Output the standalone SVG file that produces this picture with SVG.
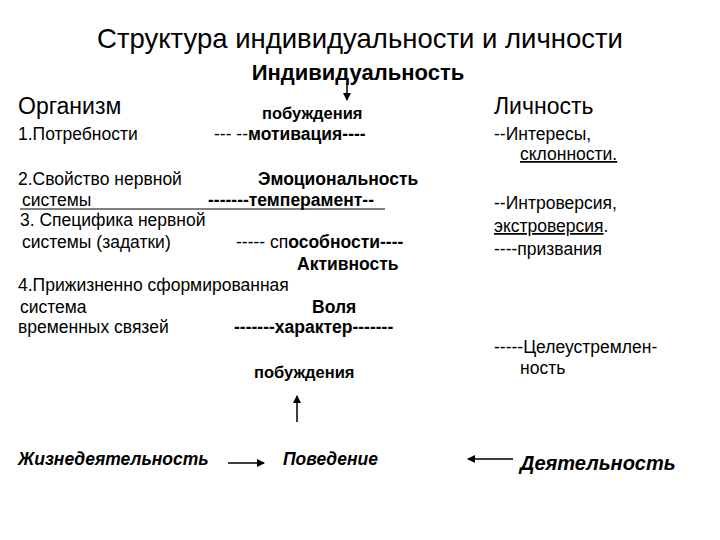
<svg xmlns="http://www.w3.org/2000/svg" width="720" height="540" viewBox="0 0 720 540">
<defs>
<marker id="ah" markerWidth="8" markerHeight="8" refX="7" refY="4" orient="auto" markerUnits="userSpaceOnUse"><path d="M0,0 L8,4 L0,8 Z" fill="#000"/></marker>
<style>
text{font-family:"Liberation Sans",Arial,sans-serif;fill:#000}
.n{font-size:17.5px}
.b{font-size:17.5px;font-weight:bold}
.h{font-size:23px}
.i{font-size:17.5px;font-weight:bold;font-style:italic}
line{stroke:#000;stroke-width:1.5}
</style>
</defs>
<rect width="720" height="540" fill="#fff"/>
<g id="title">
<text x="360" y="48" text-anchor="middle" style="font-size:27.5px">Структура индивидуальности и личности</text>
<text x="358" y="80" class="b" text-anchor="middle" style="font-size:22px">Индивидуальность</text>
</g>
<g id="organism">
<text x="18" y="114" class="h">Организм</text>
<text x="18" y="140" class="n">1.Потребности</text>
<text x="18" y="185" class="n">2.Свойство нервной</text>
<text x="22" y="206" class="n">системы</text>
<text x="20" y="226" class="n">3. Специфика нервной</text>
<text x="22" y="248" class="n">системы (задатки)</text>
<text x="18" y="291" class="n">4.Прижизненно сформированная</text>
<text x="20" y="313" class="n">система</text>
<text x="18" y="333" class="n">временных  связей</text>
</g>
<g id="middle">
<text x="262" y="119" class="b" style="font-size:16.5px">побуждения</text>
<text x="214" y="140" class="n">--- --<tspan font-weight="bold">мотивация----</tspan></text>
<text x="258" y="185" class="b">Эмоциональность</text>
<text x="208" y="206" class="b">-------темперамент--</text>
<line x1="20" y1="209" x2="385" y2="209" style="stroke-width:1.2"/>
<text x="236" y="248" class="n">----- сп<tspan font-weight="bold">особности----</tspan></text>
<text x="297" y="270" class="b">Активность</text>
<text x="312" y="313" class="b">Воля</text>
<text x="234" y="333" class="b">-------характер-------</text>
<text x="254" y="378" class="b" style="font-size:16.5px">побуждения</text>
</g>
<g id="lichnost">
<text x="494" y="114" class="h">Личность</text>
<text x="494" y="140" class="n">--Интересы,</text>
<text x="520" y="160" class="n" text-decoration="underline">склонности.</text>
<text x="494" y="209" class="n">--Интроверсия,</text>
<text x="494" y="232" class="n"><tspan text-decoration="underline">экстроверсия</tspan>.</text>
<text x="494" y="255" class="n">----призвания</text>
<text x="494" y="353" class="n">-----Целеустремлен-</text>
<text x="520" y="374" class="n">ность</text>
</g>
<g id="bottom">
<text x="18" y="465" class="i">Жизнедеятельность</text>
<text x="283" y="465" class="i">Поведение</text>
<text x="520" y="470" class="i" style="font-size:20px">Деятельность</text>
</g>
<g id="connectors">
<line x1="347" y1="83" x2="347" y2="100" marker-end="url(#ah)"/>
<line x1="297" y1="422" x2="297" y2="396" marker-end="url(#ah)"/>
<line x1="228" y1="463" x2="264" y2="463" marker-end="url(#ah)"/>
<line x1="513" y1="459" x2="468" y2="459" marker-end="url(#ah)"/>
</g>
</svg>
